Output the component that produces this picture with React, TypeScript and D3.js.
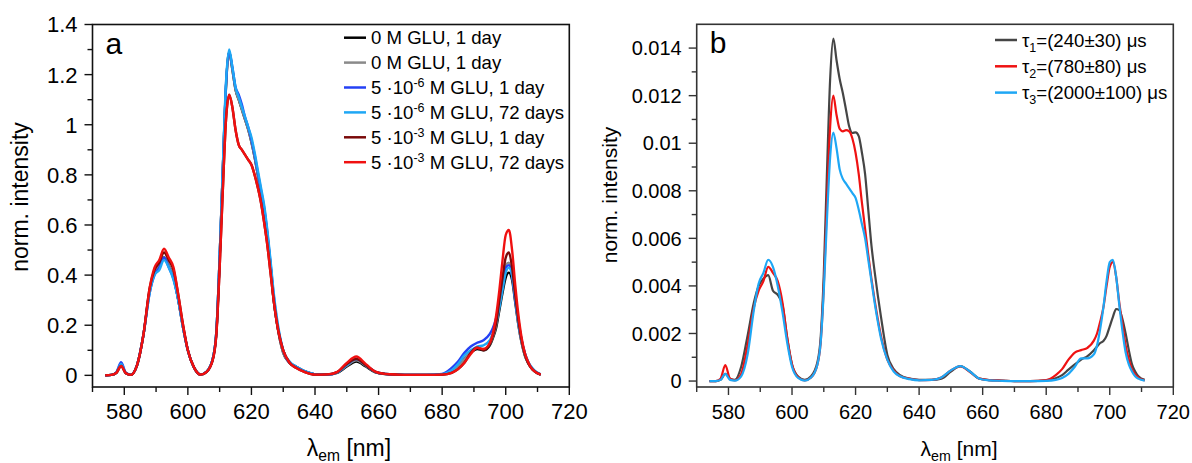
import React from "react";
import * as d3 from "d3";

// ---------- data ----------
const wavelengths = [
  574, 576, 577.5, 579, 580.5, 582, 584, 586, 588, 589.5,
  591, 592.5, 594, 595.5, 597, 598.5, 600, 602, 604, 606,
  608, 609, 610, 611, 612, 613, 614, 615, 616, 617,
  618, 619, 620, 621, 622, 623, 624, 625, 626, 627,
  628, 630, 632, 634, 637, 640, 644, 647, 650, 653,
  656, 659, 662, 666, 670, 675, 680, 683, 685, 687,
  689, 691, 693, 695, 696, 697, 698, 699, 700, 701,
  702, 703, 704, 705, 706, 707, 708, 709, 711,
];

// panel a
const glu0Black = [
  0, 0.002, 0.01, 0.042, 0.008, 0.002, 0.04, 0.16, 0.34, 0.41,
  0.44, 0.47, 0.44, 0.39, 0.30, 0.19, 0.10, 0.03, 0.003, 0.015,
  0.075, 0.18, 0.47, 0.82, 1.15, 1.29, 1.22, 1.14, 1.10, 1.06,
  1.02, 0.98, 0.93, 0.87, 0.80, 0.73, 0.66, 0.56, 0.44, 0.30,
  0.21, 0.09, 0.05, 0.035, 0.015, 0.004, 0.003, 0.01, 0.035, 0.055,
  0.035, 0.012, 0.005, 0.003, 0.002, 0.002, 0.004, 0.015, 0.035, 0.065,
  0.09, 0.105, 0.10, 0.12, 0.15, 0.19, 0.26, 0.33, 0.39, 0.41,
  0.38, 0.29, 0.20, 0.13, 0.08, 0.05, 0.03, 0.017, 0.003,
];
const glu0Gray = [
  0, 0.002, 0.01, 0.045, 0.008, 0.002, 0.04, 0.16, 0.34, 0.41,
  0.44, 0.47, 0.44, 0.39, 0.30, 0.19, 0.10, 0.03, 0.003, 0.015,
  0.075, 0.18, 0.47, 0.82, 1.15, 1.29, 1.22, 1.14, 1.10, 1.06,
  1.02, 0.98, 0.93, 0.87, 0.80, 0.73, 0.66, 0.56, 0.44, 0.30,
  0.21, 0.09, 0.05, 0.035, 0.015, 0.004, 0.003, 0.011, 0.038, 0.06,
  0.038, 0.013, 0.005, 0.003, 0.002, 0.002, 0.004, 0.015, 0.035, 0.065,
  0.095, 0.11, 0.105, 0.125, 0.155, 0.20, 0.28, 0.36, 0.44, 0.45,
  0.40, 0.30, 0.20, 0.13, 0.08, 0.05, 0.03, 0.017, 0.003,
];
const glu6Day1 = [
  0, 0.002, 0.012, 0.052, 0.01, 0.003, 0.04, 0.16, 0.33, 0.40,
  0.43, 0.47, 0.43, 0.385, 0.30, 0.19, 0.10, 0.03, 0.004, 0.016,
  0.075, 0.18, 0.47, 0.82, 1.16, 1.29, 1.23, 1.15, 1.12, 1.08,
  1.03, 0.99, 0.94, 0.88, 0.81, 0.74, 0.67, 0.57, 0.45, 0.32,
  0.22, 0.10, 0.05, 0.035, 0.015, 0.004, 0.003, 0.012, 0.042, 0.065,
  0.04, 0.014, 0.006, 0.003, 0.002, 0.002, 0.006, 0.03, 0.055, 0.09,
  0.115, 0.13, 0.14, 0.165, 0.19, 0.23, 0.29, 0.36, 0.43, 0.44,
  0.40, 0.30, 0.21, 0.14, 0.09, 0.055, 0.033, 0.019, 0.004,
];
const glu6Day72 = [
  0, 0.002, 0.011, 0.045, 0.009, 0.003, 0.04, 0.16, 0.33, 0.40,
  0.42, 0.46, 0.43, 0.38, 0.30, 0.19, 0.10, 0.03, 0.004, 0.016,
  0.075, 0.18, 0.47, 0.83, 1.17, 1.30, 1.23, 1.15, 1.11, 1.07,
  1.03, 0.99, 0.95, 0.89, 0.82, 0.75, 0.68, 0.58, 0.46, 0.33,
  0.23, 0.10, 0.055, 0.035, 0.015, 0.004, 0.003, 0.012, 0.042, 0.065,
  0.04, 0.014, 0.006, 0.003, 0.002, 0.002, 0.005, 0.02, 0.045, 0.08,
  0.10, 0.115, 0.12, 0.14, 0.17, 0.21, 0.27, 0.34, 0.41, 0.43,
  0.40, 0.31, 0.21, 0.14, 0.09, 0.055, 0.035, 0.02, 0.004,
];
const glu3Day1 = [
  0, 0.002, 0.01, 0.037, 0.008, 0.002, 0.04, 0.16, 0.35, 0.42,
  0.45, 0.49, 0.46, 0.42, 0.32, 0.20, 0.10, 0.03, 0.003, 0.015,
  0.07, 0.17, 0.43, 0.74, 1.02, 1.12, 1.07, 0.98, 0.92, 0.90,
  0.88, 0.86, 0.84, 0.80, 0.75, 0.69, 0.61, 0.52, 0.41, 0.30,
  0.21, 0.10, 0.05, 0.03, 0.012, 0.003, 0.004, 0.013, 0.045, 0.065,
  0.04, 0.014, 0.006, 0.003, 0.002, 0.002, 0.003, 0.01, 0.025, 0.05,
  0.09, 0.11, 0.10, 0.125, 0.16, 0.21, 0.30, 0.39, 0.47, 0.49,
  0.43, 0.32, 0.22, 0.14, 0.085, 0.05, 0.03, 0.017, 0.003,
];
const glu3Day72 = [
  0, 0.002, 0.01, 0.037, 0.008, 0.002, 0.04, 0.16, 0.35, 0.43,
  0.46, 0.505, 0.47, 0.43, 0.32, 0.20, 0.10, 0.03, 0.003, 0.015,
  0.07, 0.17, 0.43, 0.74, 1.02, 1.12, 1.07, 0.98, 0.92, 0.90,
  0.88, 0.86, 0.84, 0.80, 0.75, 0.69, 0.61, 0.52, 0.41, 0.30,
  0.21, 0.10, 0.05, 0.03, 0.012, 0.003, 0.004, 0.014, 0.05, 0.075,
  0.045, 0.015, 0.006, 0.003, 0.002, 0.002, 0.003, 0.01, 0.025, 0.05,
  0.085, 0.11, 0.105, 0.13, 0.17, 0.24, 0.34, 0.46, 0.56, 0.58,
  0.50, 0.36, 0.24, 0.15, 0.09, 0.055, 0.03, 0.017, 0.003,
];

// panel b
const tau1 = [
  0, 0, 0.00005, 0.0003, 0.0001, 0.00005, 0.0006, 0.0019, 0.0033, 0.0040,
  0.0043, 0.00445, 0.0038, 0.00362, 0.0032, 0.0018, 0.0007, 0.00018, 0.00005, 0.0002,
  0.0008, 0.0018, 0.0045, 0.0088, 0.0127, 0.0144, 0.0135, 0.0127, 0.0121, 0.0114,
  0.0107, 0.01043, 0.01046, 0.0103, 0.0096, 0.0087, 0.0072, 0.0057, 0.0046, 0.0036,
  0.0027, 0.0011, 0.0005, 0.00025, 0.0001, 0.00005, 0.00005, 0.0001, 0.0004, 0.00063,
  0.0004, 0.0001, 0.00004, 0.00002, 0, 0, 0.00003, 0.00012, 0.00025, 0.00048,
  0.0007, 0.0009, 0.00105, 0.0013, 0.00145, 0.0016, 0.00168, 0.0019, 0.0023, 0.0027,
  0.00303, 0.00298, 0.0026, 0.002, 0.0013, 0.0007, 0.0004, 0.0002, 0.00005,
];
const tau2 = [
  0, 0, 0.0001, 0.00067, 0.0001, 0.00003, 0.0003, 0.0015, 0.0031, 0.0038,
  0.0042, 0.0048, 0.00455, 0.0042, 0.0033, 0.0018, 0.0007, 0.00015, 0.00003, 0.00015,
  0.0007, 0.0016, 0.004, 0.0075, 0.0107, 0.012, 0.0112, 0.0106, 0.0105, 0.01055,
  0.0105, 0.0102, 0.0096, 0.0087, 0.0075, 0.0064, 0.0053, 0.0043, 0.0034, 0.0026,
  0.0019, 0.0009, 0.00045, 0.0002, 0.0001, 0.00004, 0.00005, 0.00015, 0.00045, 0.00062,
  0.00038, 0.0001, 0.00004, 0.00002, 0, 0, 0.00004, 0.00025, 0.0005, 0.0009,
  0.0012, 0.0013, 0.0014, 0.0017, 0.002, 0.0025, 0.0031, 0.004, 0.0048, 0.005,
  0.0044, 0.0033, 0.0024, 0.0015, 0.0009, 0.0005, 0.00028, 0.00015, 0.00003,
];
const tau3 = [
  0, 0, 0.00005, 0.0003, 0.00005, 0.00002, 0.0002, 0.0011, 0.003, 0.0041,
  0.00455, 0.0051, 0.0048, 0.004, 0.0029, 0.0016, 0.0006, 0.00012, 0.00002, 0.00015,
  0.0007, 0.0016, 0.0038, 0.0068, 0.0094, 0.01045, 0.0098, 0.0089, 0.0085, 0.0083,
  0.0081, 0.0079, 0.0077, 0.0072, 0.0066, 0.006, 0.0051, 0.0042, 0.0033, 0.0025,
  0.0018, 0.0009, 0.0004, 0.0002, 0.00008, 0.00003, 0.00005, 0.00015, 0.00045, 0.00063,
  0.0004, 0.0001, 0.00003, 0.00001, 0, 0, 0.00001, 0.00005, 0.00013, 0.0003,
  0.0006, 0.00095, 0.00095, 0.00112, 0.0015, 0.0022, 0.0031, 0.0042, 0.005, 0.0051,
  0.0044, 0.0032, 0.0021, 0.0012, 0.0007, 0.0004, 0.0002, 0.0001, 0.00002,
];

const xTickValues = [580, 600, 620, 640, 660, 680, 700, 720];
const xMinorValues = [570, 590, 610, 630, 650, 670, 690, 710];
const aTickValues = [0, 0.2, 0.4, 0.6, 0.8, 1, 1.2, 1.4];
const aTickLabels = ["0", "0.2", "0.4", "0.6", "0.8", "1", "1.2", "1.4"];
const bTickValues = [0, 0.002, 0.004, 0.006, 0.008, 0.01, 0.012, 0.014];
const bTickLabels = ["0", "0.002", "0.004", "0.006", "0.008", "0.01", "0.012", "0.014"];

const FONT = "'Liberation Sans', Arial, sans-serif";

type Series = { values: number[]; color: string; label: React.ReactNode };

const seriesA: Series[] = [
  { values: glu0Black, color: "#000000", label: <>0 M GLU, 1 day</> },
  { values: glu0Gray, color: "#8a8a8a", label: <>0 M GLU, 1 day</> },
  {
    values: glu6Day1, color: "#2441f5",
    label: <>5 ·10<tspan dy={-7} fontSize={12.5}>-6</tspan><tspan dy={7}> M GLU, 1 day</tspan></>,
  },
  {
    values: glu6Day72, color: "#1ea7f5",
    label: <>5 ·10<tspan dy={-7} fontSize={12.5}>-6</tspan><tspan dy={7}> M GLU, 72 days</tspan></>,
  },
  {
    values: glu3Day1, color: "#7a0a0a",
    label: <>5 ·10<tspan dy={-7} fontSize={12.5}>-3</tspan><tspan dy={7}> M GLU, 1 day</tspan></>,
  },
  {
    values: glu3Day72, color: "#f01010",
    label: <>5 ·10<tspan dy={-7} fontSize={12.5}>-3</tspan><tspan dy={7}> M GLU, 72 days</tspan></>,
  },
];

const seriesB: Series[] = [
  { values: tau1, color: "#454545", label: <>τ<tspan dy={5} fontSize={12.5}>1</tspan><tspan dy={-5}>=(240±30) μs</tspan></> },
  { values: tau2, color: "#ef1212", label: <>τ<tspan dy={5} fontSize={12.5}>2</tspan><tspan dy={-5}>=(780±80) μs</tspan></> },
  { values: tau3, color: "#1ea7f5", label: <>τ<tspan dy={5} fontSize={12.5}>3</tspan><tspan dy={-5}>=(2000±100) μs</tspan></> },
];

type PanelProps = {
  left: number; top: number; right: number; bottom: number;
  yDomain: [number, number];
  yTicks: number[]; yLabels: string[];
  series: Series[];
  tickFont: number; titleFont: number;
  letter: string;
  legendX: number; legendY: number; legendStep: number; legendFont: number;
  lineWidth: number; frameColor: string;
  yTitleX: number; yTitleY: number; xTitleX: number;
};

function Panel(p: PanelProps) {
  const x = d3.scaleLinear().domain([570, 720]).range([p.left, p.right]);
  const y = d3.scaleLinear().domain(p.yDomain).range([p.bottom, p.top]);
  const line = d3
    .line<number>()
    .x((_, i) => x(wavelengths[i]))
    .y((v) => y(v))
    .curve(d3.curveMonotoneX);
  const yMinor = p.yTicks.slice(0, -1).map((v, i) => (v + p.yTicks[i + 1]) / 2);
  return (
    <g fontFamily={FONT} fill="#000">
      {p.series.map((s, i) => (
        <path key={i} d={line(s.values) || ""} fill="none" stroke={s.color}
          strokeWidth={p.lineWidth} strokeLinejoin="round" />
      ))}
      <rect x={p.left} y={p.top} width={p.right - p.left} height={p.bottom - p.top}
        fill="none" stroke={p.frameColor} strokeWidth={1.6} />
      {xTickValues.map((v) => (
        <g key={"xt" + v}>
          <line x1={x(v)} x2={x(v)} y1={p.bottom} y2={p.bottom + 8} stroke={p.frameColor} strokeWidth={1.4} />
          <text x={x(v)} y={p.bottom + 32} fontSize={p.tickFont} textAnchor="middle">{v}</text>
        </g>
      ))}
      {xMinorValues.map((v) => (
        <line key={"xm" + v} x1={x(v)} x2={x(v)} y1={p.bottom} y2={p.bottom + 5} stroke={p.frameColor} strokeWidth={1.4} />
      ))}
      {p.yTicks.map((v, i) => (
        <g key={"yt" + v}>
          <line x1={p.left - 8} x2={p.left} y1={y(v)} y2={y(v)} stroke={p.frameColor} strokeWidth={1.4} />
          <text x={p.left - 15} y={y(v)} dy="0.36em" fontSize={p.tickFont} textAnchor="end">{p.yLabels[i]}</text>
        </g>
      ))}
      {yMinor.map((v) => (
        <line key={"ym" + v} x1={p.left - 5} x2={p.left} y1={y(v)} y2={y(v)} stroke={p.frameColor} strokeWidth={1.4} />
      ))}
      <text x={p.left + 13} y={p.top + 29} fontSize={30}>{p.letter}</text>
      <text transform={`translate(${p.yTitleX},${p.yTitleY}) rotate(-90)`}
        fontSize={p.titleFont} textAnchor="middle" dy="0.35em">norm. intensity</text>
      <text x={p.xTitleX} y={456} fontSize={p.titleFont} textAnchor="middle">
        λ<tspan dy={5} fontSize={p.titleFont * 0.68}>em</tspan><tspan dy={-5}> [nm]</tspan>
      </text>
      {p.series.map((s, i) => {
        const cy = p.legendY + i * p.legendStep;
        return (
          <g key={"lg" + i}>
            <line x1={p.legendX} x2={p.legendX + 22} y1={cy} y2={cy} stroke={s.color} strokeWidth={2.5} />
            <text x={p.legendX + 27} y={cy} dy="0.35em" fontSize={p.legendFont}>{s.label}</text>
          </g>
        );
      })}
    </g>
  );
}

export default function App() {
  return (
    <svg width={1192} height={463} style={{ position: "absolute", left: 0, top: 0, background: "#fff" }}>
      <rect width={1192} height={463} fill="#fff" />
      <Panel left={92.5} top={24.5} right={569.3} bottom={387}
        yDomain={[-0.0465, 1.4]} yTicks={aTickValues} yLabels={aTickLabels}
        series={seriesA} tickFont={22} titleFont={23} letter="a"
        legendX={344} legendY={37.7} legendStep={24.9} legendFont={18.6}
        lineWidth={2.4} frameColor="#111" yTitleX={20} yTitleY={197} xTitleX={349} />
      <Panel left={696.7} top={24.3} right={1173.3} bottom={387}
        yDomain={[-0.00025, 0.015]} yTicks={bTickValues} yLabels={bTickLabels}
        series={seriesB} tickFont={20} titleFont={21} letter="b"
        legendX={995} legendY={40} legendStep={26.3} legendFont={18.6}
        lineWidth={2.2} frameColor="#333" yTitleX={610} yTitleY={195} xTitleX={959} />
    </svg>
  );
}
